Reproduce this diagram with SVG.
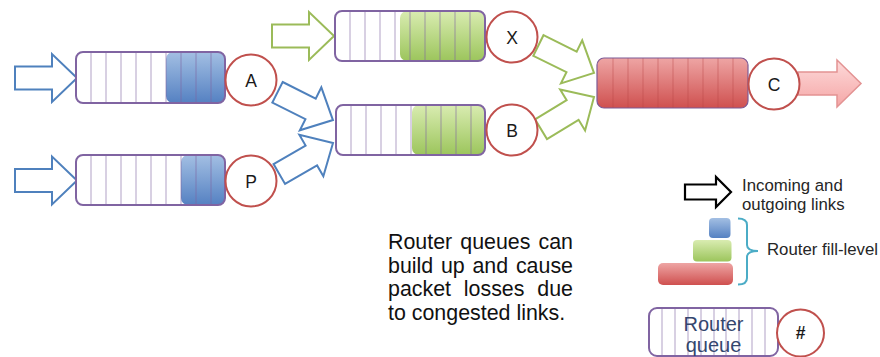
<svg xmlns="http://www.w3.org/2000/svg" xmlns:xlink="http://www.w3.org/1999/xlink" width="880" height="357" viewBox="0 0 880 357">
  <defs>
    <linearGradient id="gBlue" x1="0" y1="0" x2="0" y2="1">
      <stop offset="0" stop-color="#a3bfe3"/>
      <stop offset="1" stop-color="#5581c2"/>
    </linearGradient>
    <linearGradient id="gGreen" x1="0" y1="0" x2="0" y2="1">
      <stop offset="0" stop-color="#d9ecb1"/>
      <stop offset="1" stop-color="#9cc55c"/>
    </linearGradient>
    <linearGradient id="gRed" x1="0" y1="0" x2="0" y2="1">
      <stop offset="0" stop-color="#eea5a4"/>
      <stop offset="1" stop-color="#cf504f"/>
    </linearGradient>
    <linearGradient id="gPink" x1="0" y1="0" x2="0" y2="1">
      <stop offset="0" stop-color="#fddada"/>
      <stop offset="1" stop-color="#f5a6a6"/>
    </linearGradient>
    <!-- block arrow pointing right: tail at x=0, tip at x=62 -->
    <path id="blk" d="M0,-11.5H37V-24L62,0L37,24V11.5H0Z"/>
    <style>
      .q { fill: #fff; }
      .qo { fill: none; stroke: #8064a2; stroke-width: 2; }
      .dv { fill: none; stroke: #8064a2; stroke-width: 1.2; stroke-opacity: 0.5; }
      .rt { fill: #fff; stroke: #c0504d; stroke-width: 2; }
      .lb { font-family: "Liberation Sans", Arial, sans-serif; font-size: 17.5px; fill: #1a1a1a; text-anchor: middle; }
      .ab { fill: #fff; stroke: #4f81bd; stroke-width: 2; stroke-linejoin: miter; }
      .ag { fill: #fff; stroke: #9bbb59; stroke-width: 2; stroke-linejoin: miter; }
      .note { font-family: "Liberation Sans", Arial, sans-serif; font-size: 21.4px; fill: #111; }
      .leg { font-family: "Liberation Sans", Arial, sans-serif; font-size: 16.8px; fill: #262626; }
      .qt { font-family: "Liberation Sans", Arial, sans-serif; font-size: 20px; fill: #34466e; text-anchor: middle; }
    </style>
  </defs>

  <rect width="880" height="357" fill="#fff"/>

  <!-- links between routers -->
  <g id="connectors">
    <use href="#blk" class="ab" transform="translate(15,78)"/>
    <use href="#blk" class="ab" transform="translate(15,180.5)"/>
    <use href="#blk" class="ag" transform="translate(272,36)"/>
    <use href="#blk" class="ab" transform="translate(277.5,92.3) rotate(26.6)"/>
    <use href="#blk" class="ab" transform="translate(279.3,174) rotate(-30)"/>
    <use href="#blk" class="ag" transform="translate(538.4,45.5) rotate(26.3)"/>
    <use href="#blk" class="ag" transform="translate(541,129.2) rotate(-31.3)"/>
    <path d="M798,72H837V60L861,83.5L837,107V95H798Z" fill="url(#gPink)" stroke="#e39393" stroke-width="1.5"/>
  </g>

  <!-- router A -->
  <g id="node-A">
    <rect class="q" x="76" y="52" width="149" height="51" rx="7"/>
    <rect x="166" y="52" width="59" height="51" rx="7" fill="url(#gBlue)"/>
    <path class="dv" d="M91,52V103M106,52V103M121,52V103M136,52V103M151,52V103M166,52V103M181,52V103M196,52V103M211,52V103"/>
    <rect class="qo" x="76" y="52" width="149" height="51" rx="7"/>
    <circle class="rt" cx="251" cy="80" r="25.5"/>
    <text class="lb" x="251" y="86.5">A</text>
  </g>

  <!-- router P -->
  <g id="node-P">
    <rect class="q" x="76" y="155" width="149" height="50" rx="7"/>
    <rect x="181" y="155" width="44" height="50" rx="7" fill="url(#gBlue)"/>
    <path class="dv" d="M91,155V205M106,155V205M121,155V205M136,155V205M151,155V205M166,155V205M181,155V205M196,155V205M211,155V205"/>
    <rect class="qo" x="76" y="155" width="149" height="50" rx="7"/>
    <circle class="rt" cx="251" cy="181" r="25.5"/>
    <text class="lb" x="251" y="187.5">P</text>
  </g>

  <!-- router X -->
  <g id="node-X">
    <rect class="q" x="335" y="11" width="150" height="50" rx="7"/>
    <rect x="400" y="11" width="85" height="50" rx="7" fill="url(#gGreen)"/>
    <path class="dv" d="M350,11V61M365,11V61M380,11V61M395,11V61M410,11V61M425,11V61M440,11V61M455,11V61M470,11V61"/>
    <rect class="qo" x="335" y="11" width="150" height="50" rx="7"/>
    <circle class="rt" cx="512" cy="37" r="25.5"/>
    <text class="lb" x="512" y="43.5">X</text>
  </g>

  <!-- router B -->
  <g id="node-B">
    <rect class="q" x="336" y="105" width="149" height="50" rx="7"/>
    <rect x="412" y="105" width="73" height="50" rx="7" fill="url(#gGreen)"/>
    <path class="dv" d="M351,105V155M366,105V155M381,105V155M396,105V155M411,105V155M426,105V155M441,105V155M456,105V155M471,105V155"/>
    <rect class="qo" x="336" y="105" width="149" height="50" rx="7"/>
    <circle class="rt" cx="512" cy="130" r="25.5"/>
    <text class="lb" x="512" y="136.5">B</text>
  </g>

  <!-- router C -->
  <g id="node-C">
    <rect x="597" y="58" width="151" height="50" rx="7" fill="url(#gRed)"/>
    <path d="M613,58V108M628,58V108M643,58V108M658,58V108M673,58V108M688,58V108M703,58V108M718,58V108M733,58V108" fill="none" stroke="#b94442" stroke-width="1" stroke-opacity="0.45"/>
    <rect x="597" y="58" width="151" height="50" rx="7" fill="none" stroke="#7d5a96" stroke-width="1.2"/>
    <circle class="rt" cx="774" cy="84" r="25.5"/>
    <text class="lb" x="774" y="90.5">C</text>
  </g>

  <!-- explanatory note -->
  <g id="note">
    <text class="note" x="388" y="249" word-spacing="2.1">Router queues can</text>
    <text class="note" x="388" y="272.5" word-spacing="1.8">build up and cause</text>
    <text class="note" x="388" y="296" word-spacing="6.85">packet losses due</text>
    <text class="note" x="388" y="319.5">to congested links.</text>
  </g>

  <!-- legend -->
  <g id="legend-links">
    <path d="M685,184.5H716V177L731,192L716,207V199.5H685Z" fill="#fff" stroke="#000" stroke-width="2.2"/>
    <text class="leg" x="742" y="191">Incoming and</text>
    <text class="leg" x="742" y="210">outgoing links</text>
  </g>

  <g id="legend-fill">
    <rect x="709" y="218" width="21.5" height="20" rx="4" fill="url(#gBlue)"/>
    <rect x="693" y="240" width="38.5" height="21.5" rx="4" fill="url(#gGreen)"/>
    <rect x="658" y="263" width="75" height="22" rx="5" fill="url(#gRed)"/>
    <path d="M738,218.5Q747,218.5 747,225V245Q747,251 758,251Q747,251 747,257V278Q747,284.5 738,284.5" fill="none" stroke="#4bacc6" stroke-width="2"/>
    <text class="leg" x="767" y="255">Router fill-level</text>
  </g>

  <g id="legend-queue">
    <rect class="q" x="649" y="308" width="129" height="48" rx="8"/>
    <path class="dv" d="M662,308V356M675,308V356M688,308V356M701,308V356M714,308V356M726,308V356M739,308V356M752,308V356M765,308V356"/>
    <rect class="qo" x="649" y="308" width="129" height="48" rx="8"/>
    <text class="qt" x="713.5" y="331">Router</text>
    <text class="qt" x="713.5" y="351.5">queue</text>
    <circle class="rt" cx="800.5" cy="333" r="23.5"/>
    <text class="lb" x="800.5" y="339" font-weight="bold" font-size="16">#</text>
  </g>
</svg>
